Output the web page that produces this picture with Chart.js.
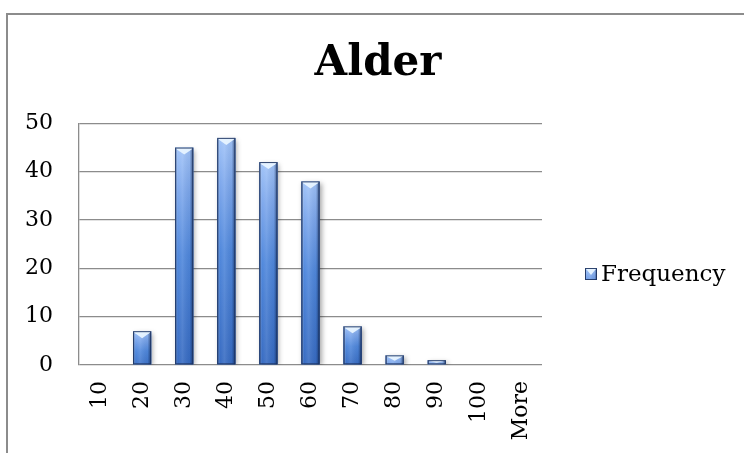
<!DOCTYPE html>
<html>
<head>
<meta charset="utf-8">
<script src="https://cdn.jsdelivr.net/npm/chart.js@4/dist/chart.umd.min.js"></script>
<style>
  html, body { margin: 0; padding: 0; background: #fff; }
  #wrap { position: relative; width: 744px; height: 453px; overflow: hidden; }
  #frame { position: absolute; left: 6px; top: 13px; width: 800px; height: 500px;
           border: 2px solid #8c8c8c; box-sizing: border-box; }
  canvas { position: absolute; left: 0; top: 0; }
</style>
</head>
<body>
<div id="wrap">
  <div id="frame"></div>
  <canvas id="c" width="744" height="453"></canvas>
</div>
<script>
// Histogram bins (upper bound of each class) and counts
const binLabels = ['10', '20', '30', '40', '50', '60', '70', '80', '90', '100', 'More'];
const frequency = [0, 7, 45, 47, 42, 38, 8, 2, 1, 0, 0];
const yTicks = [0, 10, 20, 30, 40, 50];
const seriesName = 'Frequency';
const chartTitle = 'Alder';

const serif = "'DejaVu Serif', 'Liberation Serif', serif";

// Paint a bevelled, shaded column inside a rectangle
function shadeColumn(ctx, left, top, right, bottom) {
  const w = right - left, h = bottom - top;
  if (h <= 0) return;
  // vertical: pale at the top, saturated blue toward the base
  const gv = ctx.createLinearGradient(0, top, 0, Math.max(bottom, top + 40));
  gv.addColorStop(0, '#a2c4f8');
  gv.addColorStop(0.2, '#7ea8ec');
  gv.addColorStop(0.5, '#5088dc');
  gv.addColorStop(1, '#376bc2');
  ctx.fillStyle = gv;
  ctx.fillRect(left, top, w, h);
  // horizontal: rounded, cylinder-like shading
  const gh = ctx.createLinearGradient(left, 0, right, 0);
  gh.addColorStop(0, 'rgba(20,40,80,0.6)');
  gh.addColorStop(0.14, 'rgba(255,255,255,0.0)');
  gh.addColorStop(0.4, 'rgba(255,255,255,0.1)');
  gh.addColorStop(0.8, 'rgba(10,30,70,0.06)');
  gh.addColorStop(1, 'rgba(10,30,70,0.65)');
  ctx.fillStyle = gh;
  ctx.fillRect(left, top, w, h);
  // top bevel (light chevron)
  const bh = Math.min(7, h * 0.6);
  ctx.beginPath();
  ctx.moveTo(left, top);
  ctx.lineTo(right, top);
  ctx.lineTo(right - 2, top + bh * 0.3);
  ctx.lineTo((left + right) / 2, top + bh);
  ctx.lineTo(left + 2, top + bh * 0.3);
  ctx.closePath();
  ctx.fillStyle = 'rgba(232,244,255,0.95)';
  ctx.fill();
  // outline
  ctx.strokeStyle = 'rgba(28,50,95,0.9)';
  ctx.lineWidth = 1;
  ctx.strokeRect(left + 0.5, top + 0.5, w - 1, h - 1);
}

const columnStyle = {
  id: 'columnStyle',
  beforeDatasetsDraw(chart) {
    const ctx = chart.ctx;
    ctx.save();
    ctx.shadowColor = 'rgba(0,0,0,0.35)';
    ctx.shadowBlur = 5;
    ctx.shadowOffsetX = 2;
    ctx.shadowOffsetY = 2;
  },
  afterDatasetsDraw(chart) {
    const ctx = chart.ctx;
    ctx.restore();
    ctx.save();
    const meta = chart.getDatasetMeta(0);
    meta.data.forEach(bar => {
      const p = bar.getProps(['x', 'y', 'base', 'width'], true);
      const left = p.x - p.width / 2, right = p.x + p.width / 2;
      const top = Math.min(p.y, p.base), bottom = Math.max(p.y, p.base);
      shadeColumn(ctx, left, top, right, bottom);
    });
    ctx.restore();
  },
  afterDraw(chart) {
    // series key at the right of the plot
    const ctx = chart.ctx;
    const ca = chart.chartArea;
    const bx = ca.right + 43, by = 268, bs = 12;
    ctx.save();
    shadeColumn(ctx, bx, by, bx + bs, by + bs);
    ctx.fillStyle = '#000';
    ctx.font = '23px ' + serif;
    ctx.textBaseline = 'middle';
    ctx.textAlign = 'left';
    ctx.fillText(chart.data.datasets[0].label, bx + bs + 4, by + bs / 2 + 1);
    ctx.restore();
  }
};

new Chart(document.getElementById('c'), {
  type: 'bar',
  data: {
    labels: binLabels,
    datasets: [{
      label: seriesName,
      data: frequency,
      backgroundColor: '#4f84d6',
      borderWidth: 0,
      categoryPercentage: 1,
      barPercentage: 0.43
    }]
  },
  options: {
    responsive: false,
    animation: false,
    events: [],
    layout: { padding: { left: 12, right: 0, top: 39, bottom: 0 } },
    plugins: {
      legend: { display: false },
      tooltip: { enabled: false },
      title: {
        display: true,
        text: chartTitle,
        color: '#000',
        font: { family: serif, size: 42, weight: 'bold', lineHeight: 1.2 },
        padding: { top: 0, bottom: 34 }
      }
    },
    scales: {
      x: {
        grid: { display: false, drawTicks: false },
        border: { display: false },
        ticks: {
          color: '#000',
          font: { family: serif, size: 22 },
          minRotation: 90,
          maxRotation: 90,
          padding: 16,
          autoSkip: false
        },
        afterFit(s) { s.height = 88; }
      },
      y: {
        min: 0,
        max: 50,
        afterBuildTicks(s) { s.ticks = yTicks.map(v => ({ value: v })); },
        grid: { color: '#8c8c8c', lineWidth: 1.3, drawTicks: false },
        border: { display: true, color: '#8c8c8c', width: 1.3 },
        ticks: {
          color: '#000',
          font: { family: serif, size: 22 },
          padding: 26
        },
        afterFit(s) { s.width = 67; }
      },
      // empty band on the right that holds the series key
      keyBand: {
        type: 'linear',
        position: 'right',
        display: true,
        grid: { display: false, drawTicks: false },
        border: { display: false },
        ticks: { display: false },
        afterFit(s) { s.width = 202; }
      }
    }
  },
  plugins: [columnStyle]
});
</script>
</body>
</html>
